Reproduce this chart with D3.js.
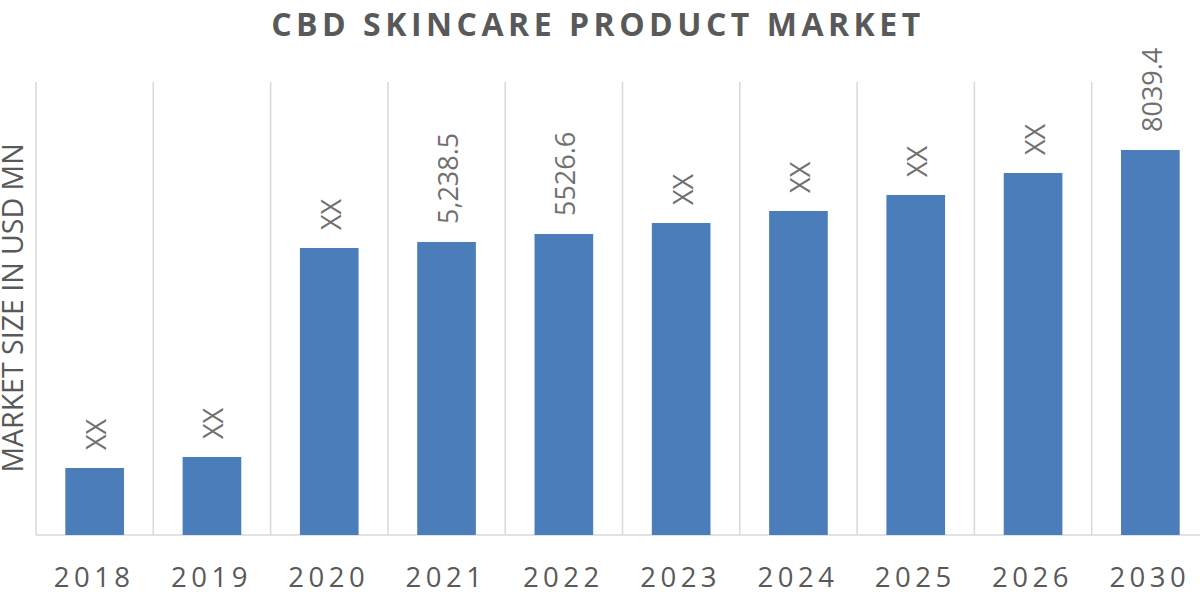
<!DOCTYPE html>
<html>
<head>
<meta charset="utf-8">
<script src="https://cdn.jsdelivr.net/npm/d3@7"></script>
<style>
  html, body { margin: 0; padding: 0; background: #ffffff; }
  svg { display: block; }
</style>
</head>
<body>
<svg id="chart" width="1200" height="600"></svg>
<script>
const years = ["2018", "2019", "2020", "2021", "2022", "2023", "2024", "2025", "2026", "2030"];
const values = [1399, 1629, 5993, 6118, 6285, 6515, 6766, 7100, 7559, 8039.4];
const valueLabels = ["XX", "XX", "XX", "5,238.5", "5526.6", "XX", "XX", "XX", "XX", "8039.4"];
const titleText = "CBD SKINCARE PRODUCT MARKET";
const yAxisTitle = "MARKET SIZE IN USD MN";

const svg = d3.select("#chart");
const plotLeft = 36, plotRight = 1209, plotTop = 82, plotBottom = 535;

const x = d3.scaleBand().domain(years).range([plotLeft, plotRight]).paddingInner(0.5).paddingOuter(0.25);
const y = d3.scaleLinear().domain([0, 9459]).range([plotBottom, plotTop]);

const gridColor = "#d9d9d9";
const textColor = "#595959";
const barColor = "#4a7dba";

// vertical gridlines at category boundaries
const step = x.step();
const bounds = years.map(d => x(d) - (step - x.bandwidth()) / 2);
bounds.push(bounds[bounds.length - 1] + step);
svg.append("g").selectAll("line").data(bounds).join("line")
  .attr("x1", d => d).attr("x2", d => d)
  .attr("y1", plotTop).attr("y2", plotBottom)
  .attr("stroke", gridColor).attr("stroke-width", 1.5);

// baseline
svg.append("line")
  .attr("x1", plotLeft).attr("x2", 1200)
  .attr("y1", plotBottom).attr("y2", plotBottom)
  .attr("stroke", gridColor).attr("stroke-width", 1.5);

// bars
svg.append("g").selectAll("rect").data(years).join("rect")
  .attr("x", d => x(d))
  .attr("width", x.bandwidth())
  .attr("y", (d, i) => y(values[i]))
  .attr("height", (d, i) => plotBottom - y(values[i]))
  .attr("fill", barColor);

// value labels (rotated)
svg.append("g").selectAll("text").data(years).join("text")
  .attr("transform", (d, i) => `translate(${x(d) + x.bandwidth() / 2 + 1},${y(values[i]) - 18}) rotate(-90)`)
  .attr("text-anchor", "start")
  .attr("dominant-baseline", "central")
  .attr("font-family", "'Open Sans', sans-serif")
  .attr("font-size", 27)
  .attr("fill", "#707070")
  .text((d, i) => valueLabels[i]);

// x axis labels
svg.append("g").selectAll("text").data(years).join("text")
  .attr("x", d => x(d) + x.bandwidth() / 2 - 0.5)
  .attr("y", 587)
  .attr("text-anchor", "middle")
  .attr("font-family", "'Open Sans', sans-serif")
  .attr("font-size", 27.5)
  .attr("letter-spacing", 4.5)
  .attr("fill", textColor)
  .text(d => d);

// y axis title
svg.append("text")
  .attr("transform", "translate(12,308) rotate(-90)")
  .attr("text-anchor", "middle")
  .attr("dominant-baseline", "central")
  .attr("font-family", "'Open Sans', sans-serif")
  .attr("font-size", 28.5)
  .attr("fill", textColor)
  .text(yAxisTitle);

// chart title
svg.append("text")
  .attr("x", 598)
  .attr("y", 36)
  .attr("text-anchor", "middle")
  .attr("font-family", "'Open Sans', sans-serif")
  .attr("font-weight", "bold")
  .attr("font-size", 32)
  .attr("letter-spacing", 4.5)
  .attr("fill", textColor)
  .text(titleText);
</script>
</body>
</html>
